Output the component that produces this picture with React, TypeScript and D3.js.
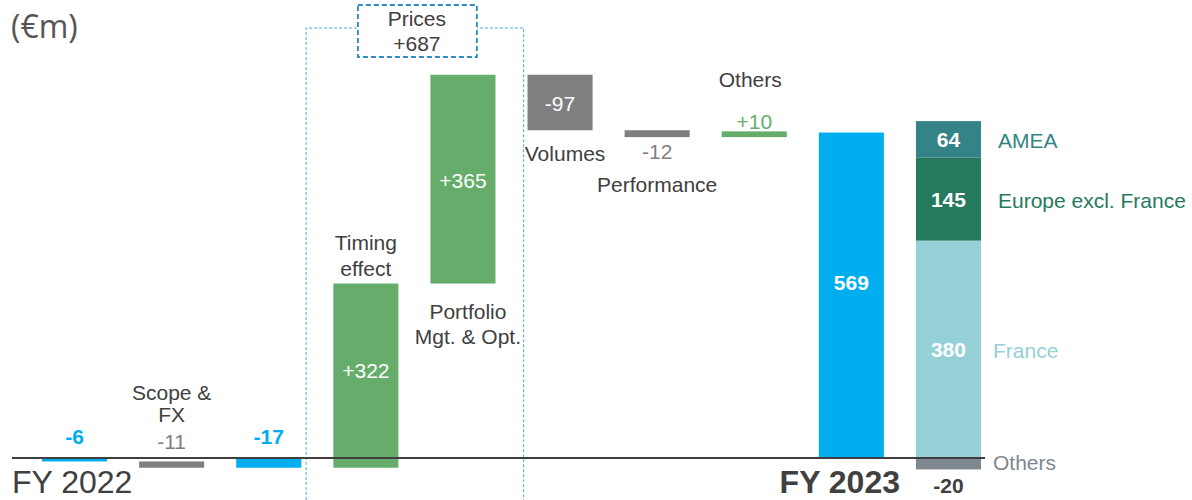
import React from 'react';
import * as d3 from 'd3';

const WIDTH = 1192;
const HEIGHT = 500;
const BASE_Y = 458;

// waterfall steps, left to right
const stepKeys = ['fy22', 'scope', 'fy22r', 'timing', 'portfolio', 'volumes', 'performance', 'others', 'fy23', 'split'];
const stepValues = [-6, -11, -17, 322, 365, -97, -12, 10, 569];
const stepKinds = ['total', 'delta', 'total', 'delta', 'delta', 'delta', 'delta', 'delta', 'total'];
const stepValueText = ['-6', '-11', '-17', '+322', '+365', '-97', '-12', '+10', '569'];

// FY 2023 breakdown, bottom to top
const segmentNames = ['Others', 'France', 'Europe excl. France', 'AMEA'];
const segmentValues = [-20, 380, 145, 64];
const segmentColors = ['#7f888e', '#95d0d6', '#257a5e', '#348387'];

const pricesTotal = '+687';

const BLUE = '#00aeef';
const GREEN = '#66ad6c';
const GREY = '#7f7f7f';
const TEXT = '#404040';
const FONT = '"Liberation Sans", Arial, sans-serif';

export default function App() {
  const x = d3.scaleBand<string>()
    .domain(stepKeys)
    .range([26, 997])
    .paddingInner(0.33)
    .paddingOuter(0.165);

  const y = d3.scaleLinear()
    .domain([0, 700])
    .range([BASE_Y, BASE_Y - 700 * 0.572]);

  const bw = x.bandwidth();

  // running totals for the waterfall
  let running = 0;
  const bars = stepValues.map((v, i) => {
    let from: number;
    let to: number;
    if (stepKinds[i] === 'total') {
      from = 0;
      to = v;
      running = v;
    } else {
      from = running;
      to = running + v;
      running = to;
    }
    const color = stepKinds[i] === 'total' ? BLUE : v < 0 ? GREY : GREEN;
    return { key: stepKeys[i], from, to, color, text: stepValueText[i] };
  });

  const b = (key: string) => bars.find(d => d.key === key)!;
  const top = (key: string) => y(Math.max(b(key).from, b(key).to));
  const bottom = (key: string) => y(Math.min(b(key).from, b(key).to));
  const cx = (key: string) => x(key)! + bw / 2;

  // stacked split of FY 2023
  let pos = 0;
  let neg = 0;
  const segments = segmentValues.map((v, i) => {
    let y0: number;
    let y1: number;
    if (v < 0) {
      y0 = neg;
      y1 = neg + v;
      neg = y1;
    } else {
      y0 = pos;
      y1 = pos + v;
      pos = y1;
    }
    return { name: segmentNames[i], value: v, y0, y1, color: segmentColors[i] };
  });

  const step = x.step();
  const boxLeft = x('timing')! - step * 0.28;
  const boxRight = x('portfolio')! + bw + step * 0.29;
  const boxMid = (boxLeft + boxRight) / 2;

  const label = { fontFamily: FONT, fontSize: 21, fill: TEXT, textAnchor: 'middle' as const };
  const boldBlue = { ...label, fill: BLUE, fontWeight: 700 };
  const inside = { ...label, fill: '#fff' };
  const insideBold = { ...inside, fontWeight: 700 };

  const sx = x('split')!;

  return (
    <svg width={WIDTH} height={HEIGHT} style={{ position: 'absolute', left: 0, top: 0 }}>
      <rect width={WIDTH} height={HEIGHT} fill="#fff" />

      {/* prices bracket */}
      <path
        d={`M${boxLeft},${HEIGHT} V28 H${boxMid - 58} M${boxMid + 60},28 H${boxRight} V${HEIGHT}`}
        fill="none" stroke="#4aa8d8" strokeWidth={1} strokeDasharray="3,2"
      />
      <rect x={boxMid - 57} y={5} width={119} height={52} fill="#fff"
        stroke="#2e8bc0" strokeWidth={1.8} strokeDasharray="5,3" />
      <text {...label} x={boxMid + 2} y={26}>Prices</text>
      <text {...label} x={boxMid + 2} y={51}>{pricesTotal}</text>

      {bars.map(d => (
        <rect key={d.key} x={x(d.key)} width={bw}
          y={y(Math.max(d.from, d.to))}
          height={Math.abs(y(d.from) - y(d.to))}
          fill={d.color} />
      ))}

      {segments.map(s => (
        <rect key={s.name} x={sx} width={bw}
          y={y(Math.max(s.y0, s.y1))}
          height={Math.abs(y(s.y0) - y(s.y1))}
          fill={s.color} />
      ))}

      <line x1={12} x2={sx + bw + 4} y1={y(0)} y2={y(0)} stroke="#3f3f3f" strokeWidth={2} />

      {/* unit + year labels */}
      <text x={11} y={38} fontFamily='"Open Sans", sans-serif' fontSize={32} fill="#555">(€m)</text>
      <text x={12} y={493} fontFamily={FONT} fontSize={32} fill={TEXT}>FY 2022</text>
      <text x={900} y={493} fontFamily={FONT} fontSize={32} fontWeight={700} fill={TEXT} textAnchor="end">FY 2023</text>

      {/* step values and names */}
      <text {...boldBlue} x={cx('fy22')} y={top('fy22') - 14}>{b('fy22').text}</text>

      <text {...label} x={cx('scope')} y={top('scope') - 61}>Scope &amp;</text>
      <text {...label} x={cx('scope')} y={top('scope') - 39}>FX</text>
      <text {...label} fill={GREY} x={cx('scope')} y={top('scope') - 12}>{b('scope').text}</text>

      <text {...boldBlue} x={cx('fy22r')} y={top('fy22r') - 14}>{b('fy22r').text}</text>

      <text {...label} x={cx('timing')} y={top('timing') - 34}>Timing</text>
      <text {...label} x={cx('timing')} y={top('timing') - 8}>effect</text>
      <text {...inside} x={cx('timing')} y={(top('timing') + bottom('timing')) / 2 + 2}>{b('timing').text}</text>

      <text {...inside} x={cx('portfolio')} y={(top('portfolio') + bottom('portfolio')) / 2 + 9}>{b('portfolio').text}</text>
      <text {...label} x={cx('portfolio') + 5} y={bottom('portfolio') + 35}>Portfolio</text>
      <text {...label} x={cx('portfolio') + 5} y={bottom('portfolio') + 60}>Mgt. &amp; Opt.</text>

      <text {...inside} x={cx('volumes')} y={(top('volumes') + bottom('volumes')) / 2 + 8}>{b('volumes').text}</text>
      <text {...label} x={cx('volumes') + 5} y={bottom('volumes') + 31}>Volumes</text>

      <text {...label} fill={GREY} x={cx('performance')} y={bottom('performance') + 22}>{b('performance').text}</text>
      <text {...label} x={cx('performance')} y={bottom('performance') + 55}>Performance</text>

      <text {...label} x={cx('others') - 4} y={top('others') - 44}>Others</text>
      <text {...label} fill={GREEN} x={cx('others')} y={top('others') - 2}>{b('others').text}</text>

      <text {...insideBold} x={cx('fy23')} y={(top('fy23') + bottom('fy23')) / 2 - 5}>{b('fy23').text}</text>

      {/* breakdown labels */}
      {segments.map(s => {
        const mid = (y(s.y0) + y(s.y1)) / 2;
        const isNeg = s.value < 0;
        const isFrance = s.name === 'France';
        return (
          <g key={s.name}>
            <text {...label} fontWeight={700}
              fill={isNeg ? TEXT : '#fff'}
              x={sx + bw / 2}
              y={isNeg ? y(s.y1) + 24 : mid + 8}>
              {s.value}
            </text>
            <text fontFamily={FONT} fontSize={21} fill={s.color}
              x={isNeg || isFrance ? sx + bw + 12 : sx + bw + 17}
              y={isNeg ? y(0) + 12 : mid + 9}>
              {s.name}
            </text>
          </g>
        );
      })}
    </svg>
  );
}
